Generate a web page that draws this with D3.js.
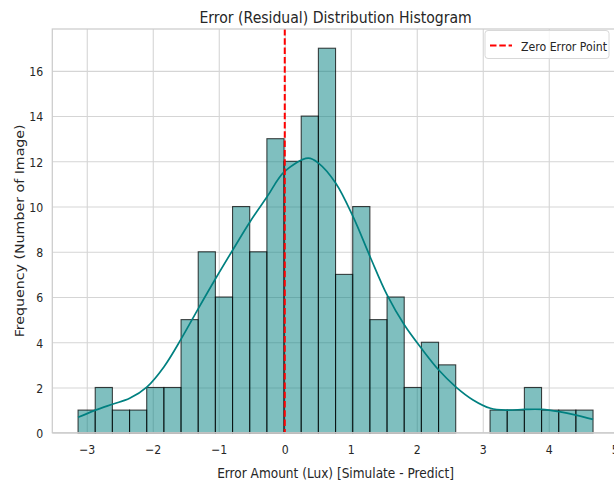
<!DOCTYPE html>
<html>
<head>
<meta charset="utf-8">
<script src="https://cdn.jsdelivr.net/npm/d3@7/dist/d3.min.js"></script>
<style>
  html, body { margin: 0; padding: 0; background: #ffffff; }
  svg { display: block; }
  text { font-family: "DejaVu Sans", sans-serif; fill: #262626; }
</style>
</head>
<body>
<div id="chart"></div>
<script>
// Residual histogram: 30 equal-width bins
const binStart = -3.132;
const binWidth = 0.2601;
const counts = [1, 2, 1, 1, 2, 2, 5, 8, 6, 10, 8, 13, 12, 14, 17, 7, 10, 5, 6, 2, 4, 3, 0, 0, 1, 1, 2, 1, 1, 1];

// Kernel density estimate (scaled to counts)
const kdeX = [-3.132, -2.868, -2.60, -2.35, -2.086, -1.829, -1.565, -1.308, -1.045, -0.788, -0.526, -0.268, -0.005,
              0.354, 0.515, 0.773, 1.035, 1.293, 1.55, 1.813, 2.07, 2.333, 2.59, 2.853, 3.116, 3.374, 3.636, 3.894, 4.156, 4.414, 4.671];
const kdeY = [0.68, 1.0, 1.27, 1.52, 2.03, 2.92, 4.17, 5.50, 6.83, 8.08, 9.33, 10.43, 11.54,
              12.14, 11.91, 11.03, 9.55, 7.78, 6.09, 4.76, 3.73, 2.77, 2.03, 1.45, 1.08, 1.00, 1.03, 1.03, 0.93, 0.78, 0.59];

const xTicks = [-3, -2, -1, 0, 1, 2, 3, 4, 5];
const yTicks = [0, 2, 4, 6, 8, 10, 12, 14, 16];
const zeroLine = 0;

const titleText = "Error (Residual) Distribution Histogram";
const xLabel = "Error Amount (Lux) [Simulate - Predict]";
const yLabel = "Frequency (Number of Image)";
const legendLabel = "Zero Error Point";

const W = 614, H = 480;
const plotL = 52.3, plotR = 618.8, plotT = 29, plotB = 432.7;
const squeeze = 0.856; // horizontal glyph compression

const binEnd = binStart + binWidth * counts.length;
const pad = (binEnd - binStart) * 0.05;
const yMax = d3.max(counts) * 1.05;

const x = d3.scaleLinear().domain([binStart - pad, binEnd + pad]).range([plotL, plotR]);
const y = d3.scaleLinear().domain([0, yMax]).range([plotB, plotT]);

const svg = d3.select("#chart").append("svg")
  .attr("width", W).attr("height", H)
  .attr("viewBox", `0 0 ${W} ${H}`);

svg.append("rect").attr("width", W).attr("height", H).attr("fill", "#ffffff");

// grid + tick labels via axes
const xAxis = svg.append("g")
  .attr("transform", `translate(0,${plotB})`)
  .call(d3.axisBottom(x).tickValues(xTicks).tickSize(-(plotB - plotT)).tickFormat(d3.format("d")));
const yAxis = svg.append("g")
  .attr("transform", `translate(${plotL},0)`)
  .call(d3.axisLeft(y).tickValues(yTicks).tickSize(-(plotR - plotL)).tickFormat(d3.format("d")));

[xAxis, yAxis].forEach(g => {
  g.select(".domain").remove();
  g.selectAll(".tick line").attr("stroke", "#d5d5d5").attr("stroke-width", 1.1);
  g.selectAll(".tick text").attr("font-size", 12.8).attr("fill", "#262626")
    .attr("font-family", "DejaVu Sans, sans-serif");
});
xAxis.selectAll(".tick text")
  .attr("y", 0).attr("dy", 0)
  .attr("transform", `translate(0,21.4) scale(${squeeze},1)`);
yAxis.selectAll(".tick text")
  .attr("x", 0).attr("dy", 0)
  .attr("text-anchor", "end")
  .attr("transform", `translate(-9,4.8) scale(${squeeze},1)`);

// bars
svg.append("g").selectAll("rect")
  .data(counts)
  .join("rect")
  .attr("x", (d, i) => x(binStart + i * binWidth))
  .attr("width", (d, i) => x(binStart + (i + 1) * binWidth) - x(binStart + i * binWidth))
  .attr("y", d => y(d))
  .attr("height", d => y(0) - y(d))
  .attr("fill", "#008080").attr("fill-opacity", 0.5)
  .attr("stroke", "#000000").attr("stroke-opacity", 0.72).attr("stroke-width", 1.1);

// KDE curve
const kdeLine = d3.line()
  .x(d => x(d[0])).y(d => y(d[1]))
  .curve(d3.curveCatmullRom.alpha(0.5));
svg.append("path")
  .datum(d3.zip(kdeX, kdeY))
  .attr("d", kdeLine)
  .attr("fill", "none")
  .attr("stroke", "#008080")
  .attr("stroke-width", 1.7);

// zero error reference line
svg.append("line")
  .attr("x1", x(zeroLine)).attr("x2", x(zeroLine))
  .attr("y1", plotT).attr("y2", plotB)
  .attr("stroke", "#ff0000").attr("stroke-width", 2)
  .attr("stroke-dasharray", "6.5,2.8");

// frame
svg.append("rect")
  .attr("x", plotL).attr("y", plotT)
  .attr("width", plotR - plotL).attr("height", plotB - plotT)
  .attr("fill", "none").attr("stroke", "#cccccc").attr("stroke-width", 1.25);

// legend
const lg = svg.append("g");
lg.append("rect")
  .attr("x", 485).attr("y", 30.5).attr("width", 124).attr("height", 28).attr("rx", 3)
  .attr("fill", "#ffffff").attr("fill-opacity", 0.8)
  .attr("stroke", "#d8d8d8").attr("stroke-width", 1);
lg.append("line")
  .attr("x1", 490).attr("x2", 512).attr("y1", 45.5).attr("y2", 45.5)
  .attr("stroke", "#ff0000").attr("stroke-width", 2)
  .attr("stroke-dasharray", "6.5,2.8");
lg.append("text")
  .attr("transform", `translate(521,51.3) scale(${squeeze},1)`)
  .attr("font-size", 12.8)
  .text(legendLabel);

// title and axis labels
svg.append("text")
  .attr("transform", `translate(${(plotL + plotR) / 2},22.8) scale(${squeeze},1)`)
  .attr("text-anchor", "middle").attr("font-size", 16.4)
  .text(titleText);
svg.append("text")
  .attr("transform", `translate(${(plotL + plotR) / 2},477.6) scale(${squeeze},1)`)
  .attr("text-anchor", "middle").attr("font-size", 14.2)
  .text(xLabel);
svg.append("text")
  .attr("transform", `translate(24,${(plotT + plotB) / 2}) scale(${squeeze},1) rotate(-90)`)
  .attr("text-anchor", "middle").attr("font-size", 14.2)
  .text(yLabel);
</script>
</body>
</html>
